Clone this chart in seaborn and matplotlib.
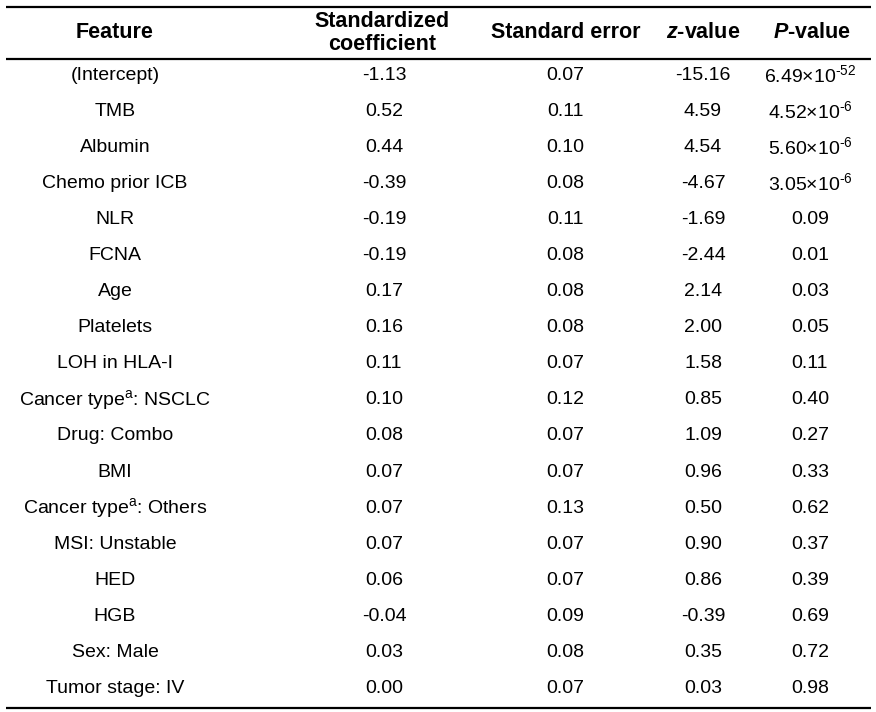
import seaborn as sns
import matplotlib.pyplot as plt

# table contents
features = ['(Intercept)', 'TMB', 'Albumin', 'Chemo prior ICB', 'NLR', 'FCNA', 'Age',
            'Platelets', 'LOH in HLA-I', r'Cancer type$^{\mathregular{a}}$: NSCLC', 'Drug: Combo',
            'BMI', r'Cancer type$^{\mathregular{a}}$: Others', 'MSI: Unstable', 'HED', 'HGB',
            'Sex: Male', 'Tumor stage: IV']
coef = ['-1.13', '0.52', '0.44', '-0.39', '-0.19', '-0.19', '0.17', '0.16', '0.11', '0.10',
        '0.08', '0.07', '0.07', '0.07', '0.06', '-0.04', '0.03', '0.00']
std_err = ['0.07', '0.11', '0.10', '0.08', '0.11', '0.08', '0.08', '0.08', '0.07', '0.12',
           '0.07', '0.07', '0.13', '0.07', '0.07', '0.09', '0.08', '0.07']
z_value = ['-15.16', '4.59', '4.54', '-4.67', '-1.69', '-2.44', '2.14', '2.00', '1.58', '0.85',
           '1.09', '0.96', '0.50', '0.90', '0.86', '-0.39', '0.35', '0.03']
p_value = [r'6.49×10$^{\text{-52}}$', r'4.52×10$^{\text{-6}}$',
           r'5.60×10$^{\text{-6}}$', r'3.05×10$^{\text{-6}}$',
           '0.09', '0.01', '0.03', '0.05', '0.11', '0.40', '0.27', '0.33', '0.62', '0.37',
           '0.39', '0.69', '0.72', '0.98']
headers = ['Feature', 'Standardized\ncoefficient', 'Standard error',
           r'$\mathbfit{z}$-value', r'$\mathbfit{P}$-value']

sns.set_theme(style='white')
plt.rcParams['font.family'] = ['Liberation Sans', 'DejaVu Sans']
plt.rcParams['text.color'] = 'black'
plt.rcParams['mathtext.fontset'] = 'custom'
plt.rcParams['mathtext.rm'] = 'Liberation Sans'
plt.rcParams['mathtext.it'] = 'Liberation Sans:italic'
plt.rcParams['mathtext.bf'] = 'Liberation Sans:bold'
plt.rcParams['mathtext.bfit'] = 'Liberation Sans:bold:italic'

W, H = 876, 712
fig = plt.figure(figsize=(W / 100, H / 100), dpi=100)
ax = fig.add_axes([0, 0, 1, 1])
ax.set_xlim(0, W)
ax.set_ylim(H, 0)
ax.axis('off')

col_x = [115, 384, 565, 703, 810]
head_x = [115, 382, 566, 703, 812]
row0, row_h = 75, 36.1
fs = 14

columns = [features, coef, std_err, z_value, p_value]
for cx, vals in zip(col_x, columns):
    for i, v in enumerate(vals):
        ax.text(cx, row0 + i * row_h, v, ha='center', va='center', fontsize=fs, color='black')

for cx, h in zip(head_x, headers):
    ax.text(cx, 33, h, ha='center', va='center', fontsize=15.5, fontweight='bold',
            linespacing=1.15, color='black')

for y in [7, 59, 708]:
    ax.plot([6, 871], [y, y], color='black', lw=1.6, solid_capstyle='butt')

fig.savefig('out.png', dpi=100)
